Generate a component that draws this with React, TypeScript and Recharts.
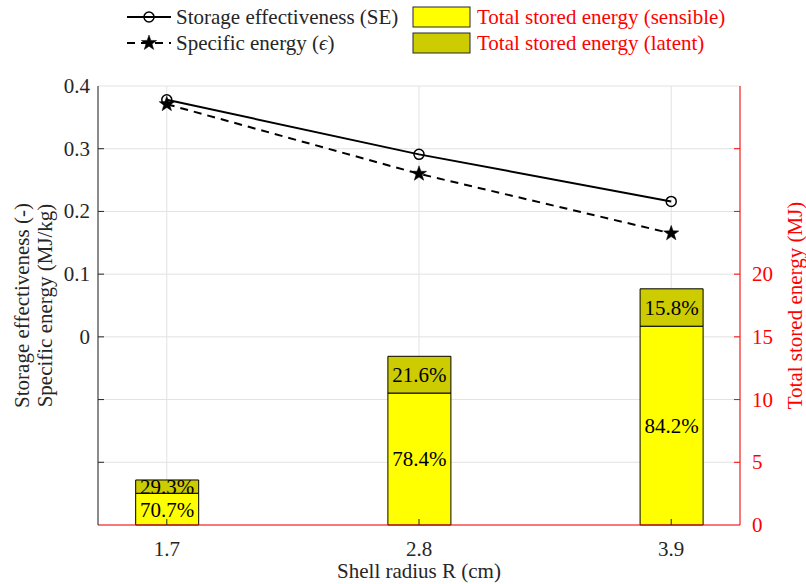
import React from 'react';
import {
  ComposedChart,
  Bar,
  Line,
  XAxis,
  YAxis,
  CartesianGrid,
  LabelList,
} from 'recharts';

const FONT = 'Liberation Serif, DejaVu Serif, serif';
const FS = 21;
const RED = '#ff0000';
const DARK = '#262626';
const GRID = '#e2e2e2';
const txt = { fontFamily: FONT, fontSize: FS };

// shell radius R (cm)
const radius = [1.7, 2.8, 3.9];
// left axis series
const effectiveness = [0.378, 0.291, 0.216];
const specificEnergy = [0.371, 0.26, 0.165];
// right axis: stored energy split (MJ)
const sensibleEnergy = [2.53, 10.52, 15.85];
const latentEnergy = [1.06, 2.93, 2.98];
const sensibleShare = ['70.7%', '78.4%', '84.2%'];
const latentShare = ['29.3%', '21.6%', '15.8%'];

const leftTicks = [-0.3, -0.2, -0.1, 0, 0.1, 0.2, 0.3, 0.4];
const rightTicks = [0, 5, 10, 15, 20, 25, 30, 35];
const rightLabelMax = 20;

const data = radius.map((r, i) => ({
  r,
  se: effectiveness[i],
  eps: specificEnergy[i],
  sensible: sensibleEnergy[i],
  latent: latentEnergy[i],
  sensiblePct: sensibleShare[i],
  latentPct: latentShare[i],
}));

const Star = ({ cx, cy, r = 8 }: any) => {
  if (cx == null || cy == null) return null;
  const pts: string[] = [];
  for (let k = 0; k < 10; k++) {
    const rad = k % 2 === 0 ? r : r * 0.4;
    const a = -Math.PI / 2 + (k * Math.PI) / 5;
    pts.push(`${cx + rad * Math.cos(a)},${cy + rad * Math.sin(a)}`);
  }
  return <polygon points={pts.join(' ')} fill="#000" stroke="#000" strokeWidth={0.5} />;
};

const LeftTick = ({ x, y, payload }: any) => {
  const v = payload.value;
  const ax = x + 8;
  return (
    <g>
      {v > -0.3 && v < 0.4 && <line x1={ax} x2={ax + 6} y1={y} y2={y} stroke={DARK} />}
      {v >= 0 && (
        <text x={x} y={y} textAnchor="end" dominantBaseline="central" style={txt} fill={DARK}>
          {String(v)}
        </text>
      )}
    </g>
  );
};

const RightTick = ({ x, y, payload }: any) => {
  const v = payload.value;
  const ax = x - 12;
  return (
    <g>
      {v > 0 && v < 35 && <line x1={ax} x2={ax - 6} y1={y} y2={y} stroke={RED} />}
      {v <= rightLabelMax && (
        <text x={x} y={y} textAnchor="start" dominantBaseline="central" style={txt} fill={RED}>
          {String(v)}
        </text>
      )}
    </g>
  );
};

const BottomTick = ({ x, y, payload }: any) => (
  <g>
    <line x1={x} x2={x} y1={y} y2={y - 6} stroke={DARK} />
    <text x={x} y={y + 24} textAnchor="middle" dominantBaseline="central" style={txt} fill={DARK}>
      {payload.value.toFixed(1)}
    </text>
  </g>
);

const TopTick = ({ x, y }: any) => <line x1={x} x2={x} y1={y} y2={y + 6} stroke={DARK} />;

const LeftLabel = ({ viewBox }: any) => {
  const cy = viewBox.y + viewBox.height / 2;
  return (
    <g style={txt} fill={DARK}>
      <text x={22} y={cy} textAnchor="middle" dominantBaseline="central" transform={`rotate(-90 22 ${cy})`}>
        Storage effectiveness (-)
      </text>
      <text x={45} y={cy} textAnchor="middle" dominantBaseline="central" transform={`rotate(-90 45 ${cy})`}>
        Specific energy (MJ/kg)
      </text>
    </g>
  );
};

const RightLabel = ({ viewBox }: any) => {
  const cy = viewBox.y + viewBox.height / 2;
  const cx = viewBox.x + 55;
  return (
    <text x={cx} y={cy} textAnchor="middle" dominantBaseline="central" style={txt} fill={RED}
      transform={`rotate(-90 ${cx} ${cy})`}>
      Total stored energy (MJ)
    </text>
  );
};

const BottomLabel = ({ viewBox }: any) => (
  <text x={viewBox.x + viewBox.width / 2} y={viewBox.y + 46} textAnchor="middle" dominantBaseline="central"
    style={txt} fill={DARK}>
    Shell radius R (cm)
  </text>
);

function LegendBox() {
  return (
    <svg width={806} height={60} style={{ position: 'absolute', left: 0, top: 0, ...txt }}>
      <line x1={127} x2={171} y1={17} y2={17} stroke="#000" strokeWidth={2} />
      <circle cx={149} cy={17} r={5} fill="none" stroke="#000" strokeWidth={1.5} />
      <text x={176} y={17} dominantBaseline="central" fill={DARK}>Storage effectiveness (SE)</text>
      <line x1={127} x2={171} y1={43} y2={43} stroke="#000" strokeWidth={2} strokeDasharray="8 6" />
      <Star cx={149} cy={43} r={8} />
      <text x={176} y={43} dominantBaseline="central" fill={DARK}>
        Specific energy (<tspan fontStyle="italic">ϵ</tspan>)
      </text>
      <rect x={413} y={7} width={57} height={20} fill="#ffff00" stroke={DARK} />
      <text x={477} y={17} dominantBaseline="central" fill={RED}>Total stored energy (sensible)</text>
      <rect x={413} y={33} width={57} height={20} fill="#cccc00" stroke={DARK} />
      <text x={477} y={43} dominantBaseline="central" fill={RED}>Total stored energy (latent)</text>
    </svg>
  );
}

export default function App() {
  return (
    <div style={{ position: 'absolute', left: 0, top: 0, width: 806, height: 584, background: '#fff', fontFamily: FONT }}>
      <ComposedChart width={806} height={584} data={data} margin={{ top: 86, right: 0, bottom: 0, left: 0 }}>
        <CartesianGrid yAxisId="left" stroke={GRID} strokeWidth={1} />
        <XAxis
          dataKey="r"
          type="number"
          domain={[1.4, 4.2]}
          ticks={radius}
          height={59}
          tickSize={0}
          tickMargin={0}
          tickLine={false}
          tick={<BottomTick />}
          axisLine={{ stroke: RED }}
          label={<BottomLabel />}
        />
        <XAxis
          xAxisId="top"
          orientation="top"
          dataKey="r"
          type="number"
          domain={[1.4, 4.2]}
          ticks={radius}
          height={0}
          tickSize={0}
          tickMargin={0}
          tickLine={false}
          tick={<TopTick />}
          axisLine={{ stroke: DARK }}
        />
        <YAxis
          yAxisId="left"
          domain={[-0.3, 0.4]}
          ticks={leftTicks}
          width={98}
          tickSize={0}
          tickMargin={8}
          tickLine={false}
          tick={<LeftTick />}
          axisLine={{ stroke: DARK }}
          label={<LeftLabel />}
        />
        <YAxis
          yAxisId="right"
          orientation="right"
          domain={[0, 35]}
          ticks={rightTicks}
          width={66}
          tickSize={0}
          tickMargin={12}
          tickLine={false}
          tick={<RightTick />}
          axisLine={{ stroke: RED }}
          label={<RightLabel />}
        />
        <Bar yAxisId="right" dataKey="sensible" stackId="e" barSize={63} fill="#ffff00" stroke="#000" strokeWidth={1} isAnimationActive={false}>
          <LabelList dataKey="sensiblePct" position="center" fill="#000" style={txt} />
        </Bar>
        <Bar yAxisId="right" dataKey="latent" stackId="e" barSize={63} fill="#cccc00" stroke="#000" strokeWidth={1} isAnimationActive={false}>
          <LabelList dataKey="latentPct" position="center" fill="#000" style={txt} />
        </Bar>
        <Line
          yAxisId="left"
          dataKey="se"
          stroke="#000"
          strokeWidth={2}
          dot={{ r: 5, fill: 'none', stroke: '#000', strokeWidth: 1.5 }}
          activeDot={false}
          isAnimationActive={false}
        />
        <Line
          yAxisId="left"
          dataKey="eps"
          stroke="#000"
          strokeWidth={2}
          strokeDasharray="8 6"
          dot={<Star r={8} />}
          activeDot={false}
          isAnimationActive={false}
        />
      </ComposedChart>
      <LegendBox />
    </div>
  );
}
